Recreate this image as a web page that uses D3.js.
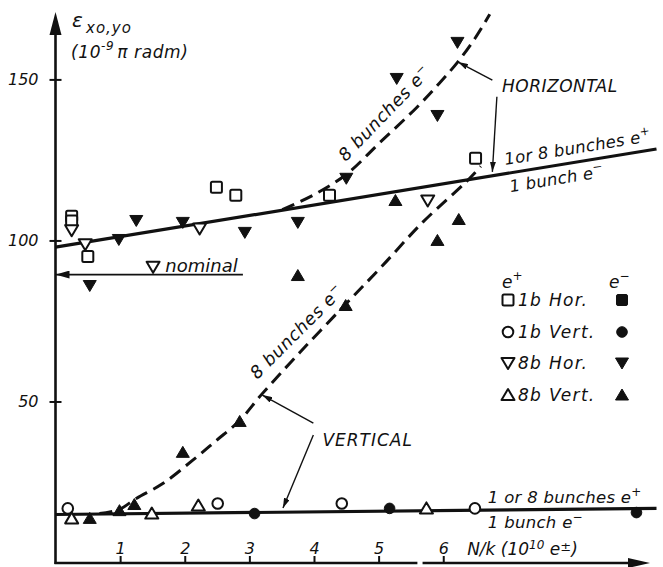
<!DOCTYPE html>
<html><head><meta charset="utf-8">
<script src="https://cdn.jsdelivr.net/npm/d3@7"></script>
<style>
body{margin:0;background:#fff}
svg{display:block;background:#fff}
text{font-family:"DejaVu Sans",sans-serif;font-style:italic;fill:#111}
</style>
</head><body>
<svg id="c" width="663" height="567"></svg>
<script>
// ---------- data ----------
const xTicks = [1, 2, 3, 4, 5, 6];
const yTicks = [50, 100, 150];

// 1 bunch, horizontal, e+ (open squares)
const hor1bPos = [[0.25,107.5],[0.25,106.0],[0.50,95.0],[2.49,116.5],[2.79,114.0],[4.24,114.0],[6.50,125.5]];
// 8 bunches, horizontal, e+ (open down triangles)
const hor8bPos = [[0.25,103.2],[0.46,98.8],[2.23,103.7],[5.76,112.4]];
// 8 bunches, horizontal, e- (filled down triangles)
const hor8bEle = [[0.53,86.0],[0.98,100.3],[1.25,106.2],[1.97,105.6],[2.93,102.5],[3.75,105.6],[4.50,119.3],[5.28,150.3],[5.91,138.8],[6.22,161.5]];
// 1 bunch, vertical, e+ (open circles)
const ver1bPos = [[0.19,16.8],[2.51,18.3],[4.43,18.3],[6.49,16.8]];
// 1 bunch, vertical, e- (filled circles)
const ver1bEle = [[3.08,15.2],[5.17,16.8],[8.99,15.5]];
// 8 bunches, vertical, e+ (open up triangles)
const ver8bPos = [[0.25,13.7],[1.49,15.2],[2.21,17.7],[5.74,16.8]];
// 8 bunches, vertical, e- (filled up triangles)
const ver8bEle = [[0.53,13.7],[0.99,16.1],[1.22,18.0],[1.97,34.2],[2.85,43.8],[3.75,89.1],[4.49,79.8],[5.26,112.4],[5.91,100.0],[6.24,106.5]];

// fitted lines / hand-drawn curves
const horFit = [[0,97.9],[9.3,128.4]];          // 1 or 8 bunches e+, 1 bunch e- (horizontal)
const verFit = [[0,14.9],[9.3,16.8]];           // 1 or 8 bunches e+, 1 bunch e- (vertical)
const nominalLine = [[0,89.4],[2.9,89.4]];
const nominalMark = [1.51,91.8];
const hor8bCurve = [[3.51,109.6],[4.01,114.3],[4.50,120.5],[5.02,130.4],[5.59,141.3],[5.94,148.8],[6.22,155.3],[6.49,162.7],[6.72,170.2]];
const ver8bCurve = [[0.68,15.2],[0.99,16.5],[1.25,19.9],[1.66,24.5],[2.12,31.7],[2.49,37.9],[2.85,44.1],[3.19,52.2],[3.78,65.2],[4.47,79.8],[5.02,91.3],[5.68,105.6],[6.36,118.3],[6.58,123.0]];

// annotation arrows [from, to] in data units
const horArrows = [[[6.76,149.8],[6.23,155.4]],[[6.83,144.6],[6.76,121.3]]];
const verArrows = [[[3.99,43.3],[3.20,52.0]],[[3.99,39.6],[3.52,16.9]]];

// ---------- drawing ----------
const ink = '#111';
const svg = d3.select('#c');
const x = d3.scaleLinear().domain([0, 9.3]).range([55.5, 656.5]);
const y = d3.scaleLinear().domain([0, 170]).range([562.5, 15]);

const defs = svg.append('defs');
defs.append('marker').attr('id','ah').attr('viewBox','0 0 10 6')
  .attr('refX',10).attr('refY',3).attr('markerWidth',10).attr('markerHeight',6)
  .attr('markerUnits','userSpaceOnUse').attr('orient','auto')
  .append('path').attr('d','M0,0L10,3L0,6Z').attr('fill',ink);
defs.append('marker').attr('id','ahBig').attr('viewBox','0 0 14 8')
  .attr('refX',14).attr('refY',4).attr('markerWidth',14).attr('markerHeight',8)
  .attr('markerUnits','userSpaceOnUse').attr('orient','auto')
  .append('path').attr('d','M0,0L14,4L0,8Z').attr('fill',ink);

// axes
const x0 = x(0), y0 = y(0) + 0.5;
const gx = svg.append('g').attr('transform', `translate(0,${y0})`)
  .call(d3.axisTop(x).tickValues(xTicks).tickSize(7).tickPadding(3).tickFormat(d3.format('d')));
gx.select('.domain').remove();
gx.selectAll('line').attr('stroke', ink).attr('stroke-width', 2);
gx.selectAll('text').style('font-size','16px').style('fill',ink).attr('y', -9);

const gy = svg.append('g').attr('transform', `translate(${x0},0)`)
  .call(d3.axisLeft(y).tickValues(yTicks).tickSize(6).tickPadding(11).tickFormat(d3.format('d')));
gy.select('.domain').remove();
gy.selectAll('line').attr('stroke', ink).attr('stroke-width', 2).attr('x1', 6);
gy.selectAll('text').style('font-size','16px').style('fill',ink);

// axis lines + arrowheads
svg.append('line').attr('x1',x0).attr('x2',x0).attr('y1',y0+1).attr('y2',30).attr('stroke',ink).attr('stroke-width',2.6);
svg.append('path').attr('d',`M${x0},12L${x0-6},35L${x0+6},35Z`).attr('fill',ink);
svg.append('line').attr('x1',x0-1).attr('x2',x(5.6)).attr('y1',y0).attr('y2',y0).attr('stroke',ink).attr('stroke-width',2.6);
svg.append('line').attr('x1',x(5.68)).attr('x2',632).attr('y1',y0).attr('y2',y0).attr('stroke',ink).attr('stroke-width',2.6);
svg.append('path').attr('d',`M650,${y0}L628,${y0-5}L628,${y0+5}Z`).attr('fill',ink);

// axis titles
const yl = svg.append('g');
yl.append('text').attr('x',72).attr('y',27).style('font-size','20px').text('ε');
yl.append('text').attr('x',86).attr('y',33).style('font-size','15px').style('letter-spacing','1px').text('xo,yo');
const yl2 = yl.append('text').attr('x',71).attr('y',58).style('font-size','17px').style('letter-spacing','0.6px');
yl2.append('tspan').text('(10');
yl2.append('tspan').attr('dy',-8).style('font-size','12px').text('-9');
yl2.append('tspan').attr('dy',8).attr('dx',3).text('π radm)');

const xl = svg.append('text').attr('x',x(6.37)).attr('y',y(2.3)).style('font-size','17px');
xl.append('tspan').text('N/k (10');
xl.append('tspan').attr('dy',-6).style('font-size','12px').text('10');
xl.append('tspan').attr('dy',6).text(' e');
xl.append('tspan').attr('dy',-4).style('font-size','13px').text('±');
xl.append('tspan').attr('dy',4).text(')');

// lines
const line = d3.line().x(d => x(d[0])).y(d => y(d[1]));
svg.append('path').attr('d', line(horFit)).attr('fill','none').attr('stroke',ink).attr('stroke-width',3.2);
svg.append('path').attr('d', line(verFit)).attr('fill','none').attr('stroke',ink).attr('stroke-width',3.2);
svg.append('path').attr('d', line(nominalLine.slice().reverse())).attr('fill','none').attr('stroke',ink).attr('stroke-width',1.8).attr('marker-end','url(#ahBig)');

const curve = d3.line().x(d => x(d[0])).y(d => y(d[1])).curve(d3.curveCatmullRom);
[hor8bCurve, ver8bCurve].forEach(c => svg.append('path').attr('d', curve(c)).attr('fill','none')
  .attr('stroke',ink).attr('stroke-width',3).attr('stroke-dasharray','13,7'));

// arrows
[...horArrows, ...verArrows].forEach(a => svg.append('path').attr('d', line(a)).attr('fill','none')
  .attr('stroke',ink).attr('stroke-width',1.4).attr('marker-end','url(#ah)'));

// markers
function sym(g, type, filled, px, py) {
  const sw = 2;
  let el;
  if (type === 'square') el = g.append('rect').attr('x',px-5.5).attr('y',py-5.5).attr('width',11).attr('height',11).attr('rx',1.5);
  else if (type === 'circle') el = g.append('circle').attr('cx',px).attr('cy',py).attr('r',5.3);
  else if (type === 'down') el = g.append('path').attr('d',`M${px-6.5},${py-5}L${px+6.5},${py-5}L${px},${py+6}Z`);
  else el = g.append('path').attr('d',`M${px-6.5},${py+5}L${px+6.5},${py+5}L${px},${py-6}Z`);
  el.attr('fill', filled ? ink : '#fff').attr('stroke', ink).attr('stroke-width', filled ? 1 : sw).attr('stroke-linejoin','round');
}
const series = [
  [hor1bPos,'square',false],[hor8bPos,'down',false],[hor8bEle,'down',true],
  [ver1bPos,'circle',false],[ver1bEle,'circle',true],[ver8bPos,'up',false],[ver8bEle,'up',true]
];
const gm = svg.append('g');
series.forEach(([data,type,filled]) => data.forEach(d => sym(gm, type, filled, x(d[0]), y(d[1]))));
sym(gm,'down',false,x(nominalMark[0]),y(nominalMark[1]));

// text annotations
function txt(xd, yd, s, size, ls, rot) {
  const t = svg.append('text').attr('transform', `translate(${x(xd)},${y(yd)}) rotate(${rot||0})`)
    .style('font-size', size + 'px').style('letter-spacing', (ls||0) + 'px');
  return t;
}
function eLabel(t, pre, sign) {
  t.append('tspan').text(pre);
  t.append('tspan').attr('dy',-7).style('font-size','12px').text(sign);
}
const horAng = Math.atan2(y(horFit[1][1]) - y(horFit[0][1]), x(horFit[1][0]) - x(horFit[0][0])) * 180 / Math.PI;
eLabel(txt(6.96,123.4,'',16.5,0.3,horAng), '1or 8 bunches e', '+');
eLabel(txt(7.04,115.0,'',16.5,0.3,horAng), '1 bunch e', '−');
eLabel(txt(6.69,18.5,'',16.5,0.3,0), '1 or 8 bunches e', '+');
eLabel(txt(6.69,10.7,'',16.5,0.3,0), '1 bunch e', '−');
eLabel(txt(4.49,124.3,'',17.5,0.6,-46), '8 bunches e', '−');
eLabel(txt(3.12,56.7,'',17.5,0.6,-45), '8 bunches e', '−');
txt(1.70,90.2,'',18,0,0).text('nominal');
txt(6.91,146.1,'',17,0.5,0).text('HORIZONTAL');
txt(4.13,36.2,'',17,1,0).text('VERTICAL');

// legend
const lg = svg.append('g');
const legRows = [['square','1b Hor.'],['circle','1b Vert.'],['down','8b Hor.'],['up','8b Vert.']];
const legY = [300, 332, 363, 395];
const hp = lg.append('text').attr('x',502).attr('y',288).style('font-size','17px');
hp.append('tspan').text('e'); hp.append('tspan').attr('dy',-8).style('font-size','12px').text('+');
const hm = lg.append('text').attr('x',609).attr('y',288).style('font-size','17px');
hm.append('tspan').text('e'); hm.append('tspan').attr('dy',-8).style('font-size','12px').text('−');
legRows.forEach(([type,label],i) => {
  sym(lg, type, false, 508, legY[i]);
  sym(lg, type, true, 622, legY[i]);
  lg.append('text').attr('x',518).attr('y',legY[i]+6).style('font-size','17px').style('letter-spacing','1.3px').text(label);
});
</script>
</body></html>
